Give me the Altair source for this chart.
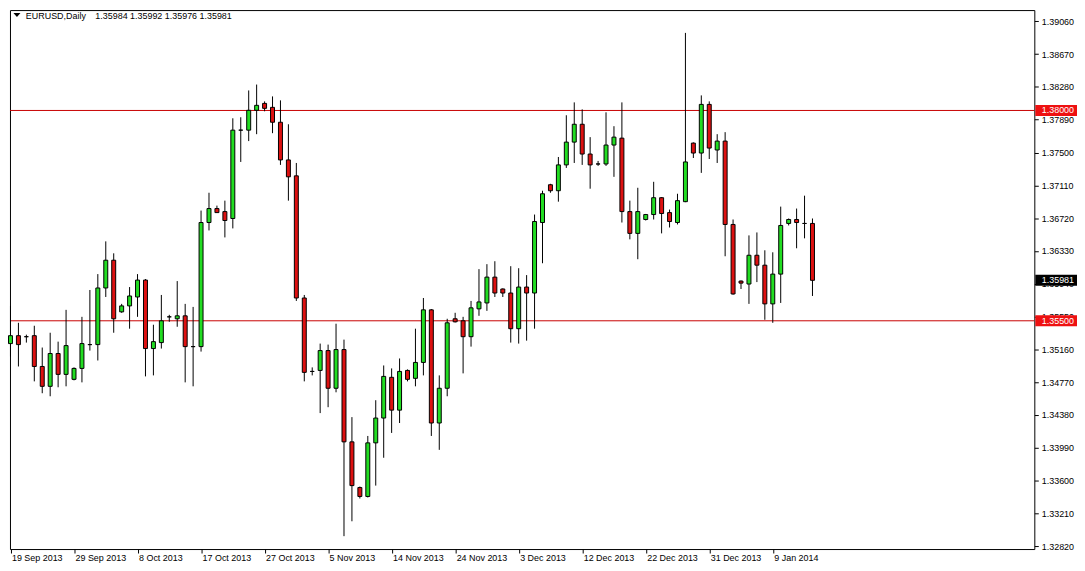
import altair as alt
import pandas as pd

# ---- data (EURUSD daily candles) ----
opens = [
    1.35229, 1.35323, 1.35311, 1.35323, 1.34957, 1.34721, 1.35111, 1.34863, 1.34804, 1.34934,
    1.35217, 1.35217, 1.35890, 1.36220, 1.35606, 1.35677, 1.35783, 1.35984, 1.35170, 1.35241,
    1.35547, 1.35524, 1.35559, 1.35193, 1.35193, 1.36668, 1.36834, 1.36798, 1.36716, 1.37766,
    1.37766, 1.38002, 1.38084, 1.38037, 1.37860, 1.37412, 1.37223, 1.35771, 1.34898, 1.34910,
    1.35146, 1.34698, 1.35158, 1.34061, 1.33518, 1.33412, 1.34049, 1.34344, 1.34828, 1.34438,
    1.34910, 1.34816, 1.35005, 1.35630, 1.34285, 1.34698, 1.35524, 1.35500, 1.35311, 1.35642,
    1.35712, 1.36019, 1.35878, 1.35830, 1.35406, 1.35901, 1.35830, 1.36668, 1.37117, 1.37046,
    1.37353, 1.37624, 1.37836, 1.37482, 1.37364, 1.37364, 1.37589, 1.37671, 1.36798, 1.36539,
    1.36704, 1.36763, 1.36963, 1.36786, 1.36668, 1.36916, 1.37612, 1.37494, 1.38072, 1.37530,
    1.37636, 1.36645, 1.35972, 1.35937, 1.36279, 1.36161, 1.35701, 1.36055, 1.36657, 1.36704,
    1.36657, 1.36657,
]
highs = [
    1.35677, 1.35476, 1.35335, 1.35441, 1.35182, 1.35358, 1.35252, 1.35630, 1.34946, 1.35547,
    1.35866, 1.36055, 1.36444, 1.36302, 1.35701, 1.35901, 1.36055, 1.35996, 1.35453, 1.35807,
    1.35571, 1.35972, 1.35701, 1.35665, 1.36810, 1.37022, 1.36869, 1.36928, 1.37907, 1.37919,
    1.38238, 1.38308, 1.38108, 1.38167, 1.38120, 1.37836, 1.37376, 1.35807, 1.34946, 1.35229,
    1.35217, 1.35465, 1.35276, 1.34355, 1.33530, 1.34131, 1.34556, 1.34969, 1.34934, 1.35052,
    1.34922, 1.35406, 1.35771, 1.35640, 1.34851, 1.35524, 1.35595, 1.35547, 1.35736, 1.36114,
    1.36173, 1.36208, 1.35885, 1.36149, 1.36125, 1.36043, 1.36763, 1.37046, 1.37128, 1.37447,
    1.37943, 1.38096, 1.38013, 1.37683, 1.37400, 1.37978, 1.37813, 1.38096, 1.36928, 1.37081,
    1.36770, 1.37152, 1.36970, 1.36822, 1.37010, 1.38922, 1.37620, 1.38179, 1.38108, 1.37718,
    1.37742, 1.36704, 1.35980, 1.36515, 1.36550, 1.36338, 1.36314, 1.36857, 1.36716, 1.36834,
    1.36987, 1.36716,
]
lows = [
    1.35075, 1.34957, 1.35241, 1.34780, 1.34639, 1.34603, 1.34710, 1.34721, 1.34792, 1.34768,
    1.35146, 1.35028, 1.35783, 1.35358, 1.35595, 1.35406, 1.35547, 1.34839, 1.34851, 1.35170,
    1.35488, 1.35429, 1.34768, 1.34721, 1.35134, 1.36574, 1.36786, 1.36491, 1.36598, 1.37388,
    1.37636, 1.37718, 1.37990, 1.37730, 1.37353, 1.36928, 1.35736, 1.34780, 1.34851, 1.34403,
    1.34473, 1.34650, 1.32940, 1.33117, 1.33388, 1.33400, 1.33541, 1.33872, 1.34167, 1.34285,
    1.34780, 1.34721, 1.34851, 1.34131, 1.33966, 1.34603, 1.35480, 1.34875, 1.35193, 1.35559,
    1.35618, 1.35783, 1.35783, 1.35241, 1.35229, 1.35264, 1.35406, 1.36184, 1.37022, 1.36916,
    1.37317, 1.37376, 1.37353, 1.37070, 1.37341, 1.37341, 1.37211, 1.36668, 1.36468, 1.36232,
    1.36692, 1.36704, 1.36539, 1.36609, 1.36645, 1.36910, 1.37435, 1.37258, 1.37423, 1.37376,
    1.36267, 1.35810, 1.35878, 1.35701, 1.35960, 1.35512, 1.35476, 1.35712, 1.36633, 1.36362,
    1.36480, 1.35795,
]
closes = [
    1.35323, 1.35217, 1.35311, 1.34957, 1.34721, 1.35111, 1.34863, 1.35205, 1.34934, 1.35229,
    1.35217, 1.35890, 1.36220, 1.35524, 1.35677, 1.35795, 1.35984, 1.35170, 1.35252, 1.35500,
    1.35547, 1.35559, 1.35193, 1.35193, 1.36668, 1.36834, 1.36786, 1.36692, 1.37766, 1.37766,
    1.38002, 1.38061, 1.38025, 1.37860, 1.37412, 1.37211, 1.35771, 1.34887, 1.34898, 1.35146,
    1.34698, 1.35158, 1.34061, 1.33541, 1.33412, 1.34049, 1.34344, 1.34839, 1.34438, 1.34898,
    1.34804, 1.35005, 1.35630, 1.34285, 1.34698, 1.35476, 1.35488, 1.35311, 1.35654, 1.35724,
    1.36019, 1.35830, 1.35830, 1.35406, 1.35901, 1.35830, 1.36680, 1.37010, 1.37046, 1.37353,
    1.37624, 1.37836, 1.37482, 1.37353, 1.37364, 1.37589, 1.37683, 1.36798, 1.36539, 1.36798,
    1.36763, 1.36963, 1.36775, 1.36680, 1.36928, 1.37388, 1.37494, 1.38072, 1.37553, 1.37636,
    1.36645, 1.35819, 1.35948, 1.36279, 1.36161, 1.35701, 1.36055, 1.36633, 1.36704, 1.36668,
    1.36657, 1.35981,
]
date_labels = ["19 Sep 2013", "29 Sep 2013", "8 Oct 2013", "17 Oct 2013", "27 Oct 2013",
               "5 Nov 2013", "14 Nov 2013", "24 Nov 2013", "3 Dec 2013", "12 Dec 2013",
               "22 Dec 2013", "31 Dec 2013", "9 Jan 2014"]
bars_per_label = 8
price_ticks = [1.39060, 1.38670, 1.38280, 1.37890, 1.37500, 1.37110, 1.36720, 1.36330,
               1.35940, 1.35550, 1.35160, 1.34770, 1.34380, 1.33990, 1.33600, 1.33210, 1.32820]
level_prices = [1.38000, 1.35500]
last_price = 1.35981
header_name = "EURUSD,Daily"
header_values = ["1.35984", "1.35992", "1.35976", "1.35981"]

assert len(opens) == len(highs) == len(lows) == len(closes)

FONT = "Liberation Sans"
GREEN = "#22dd22"
RED = "#dd1111"
LEVEL = "#c80000"
BOX_RED = "#ee1111"

df = pd.DataFrame({"idx": list(range(len(opens))), "open": opens, "high": highs,
                   "low": lows, "close": closes})

W, H = 1032, 543
x_scale = alt.Scale(domain=[-0.0625, -0.0625 + W / 8], nice=False, zero=False, padding=0)
y_scale = alt.Scale(domain=[1.327870, 1.391933], nice=False, zero=False, padding=0)

label_arr = "[" + ",".join("'" + d + "'" for d in date_labels) + "]"
x_axis = alt.Axis(values=list(range(0, bars_per_label * len(date_labels), bars_per_label)),
                  labelExpr=label_arr + "[round(datum.value / %d)]" % bars_per_label,
                  labelAlign="left", labelBaseline="top", labelPadding=1, labelOffset=1,
                  tickSize=4, tickColor="black", domain=False, grid=False, title=None,
                  labelFont=FONT, labelFontSize=9, labelColor="black",
                  labelOverlap=False, labelFlush=False, labelBound=False)
y_axis = alt.Axis(orient="right", values=price_ticks, format=".5f",
                  tickSize=4, tickColor="black", labelPadding=3, domain=False, grid=False,
                  title=None, labelFont=FONT, labelFontSize=9, labelColor="black",
                  labelBaseline="middle", labelOverlap=False, labelFlush=False, labelBound=False)

base = alt.Chart(df)
wicks = base.mark_rule(color="black", strokeWidth=1).encode(
    x=alt.X("idx:Q", scale=x_scale, axis=x_axis),
    y=alt.Y("low:Q", scale=y_scale, axis=y_axis),
    y2="high:Q",
)
bodies = base.mark_bar(width=4, stroke="black", strokeWidth=1, opacity=1).encode(
    x=alt.X("idx:Q", scale=x_scale, axis=x_axis),
    y=alt.Y("open:Q", scale=y_scale, axis=y_axis),
    y2="close:Q",
    fill=alt.condition("datum.close >= datum.open", alt.value(GREEN), alt.value(RED)),
)

levels_df = pd.DataFrame({"price": level_prices})
levels = alt.Chart(levels_df).mark_rule(color=LEVEL, strokeWidth=1).encode(
    y=alt.Y("price:Q", scale=y_scale, axis=y_axis)
)

box_df = pd.DataFrame({
    "price": level_prices + [last_price],
    "label": ["%.5f" % p for p in level_prices] + ["%.5f" % last_price],
    "bg": [BOX_RED, BOX_RED, "black"],
})
box_rects = alt.Chart(box_df).mark_rect(clip=False).transform_calculate(
    lo="datum.price - 0.00066", hi="datum.price + 0.00066"
).encode(
    x=alt.value(W + 1), x2=alt.value(W + 43),
    y=alt.Y("lo:Q", scale=y_scale, axis=y_axis), y2="hi:Q",
    fill=alt.Fill("bg:N", scale=None),
)
box_text = alt.Chart(box_df).mark_text(
    align="left", baseline="middle", color="white", font=FONT, fontSize=9, clip=False
).encode(
    x=alt.value(W + 7.5),
    y=alt.Y("price:Q", scale=y_scale, axis=y_axis),
    text="label:N",
)

hdr_df = pd.DataFrame({"name": [header_name], "vals": [" ".join(header_values)]})
tri = alt.Chart(hdr_df).mark_point(
    shape="M-1,-0.55L1,-0.55L0,0.6Z", filled=True, fill="black", size=49, opacity=1
).encode(x=alt.value(7), y=alt.value(5))
hdr_name = alt.Chart(hdr_df).mark_text(
    align="left", baseline="middle", font=FONT, fontSize=9, color="black"
).encode(x=alt.value(16), y=alt.value(5.5), text="name:N")
hdr_vals = alt.Chart(hdr_df).mark_text(
    align="left", baseline="middle", font=FONT, fontSize=9, color="black"
).encode(x=alt.value(86), y=alt.value(5.5), text="vals:N")

chart = alt.layer(
    levels, wicks, bodies, box_rects, box_text, tri, hdr_name, hdr_vals
).properties(
    width=W, height=H, padding={"left": 0, "top": 0, "right": 0, "bottom": 0},
    background="white",
).configure_view(
    stroke="black", strokeWidth=1, fill="white"
)

chart.save("out.html", embed_options={"renderer": "svg", "actions": False})
